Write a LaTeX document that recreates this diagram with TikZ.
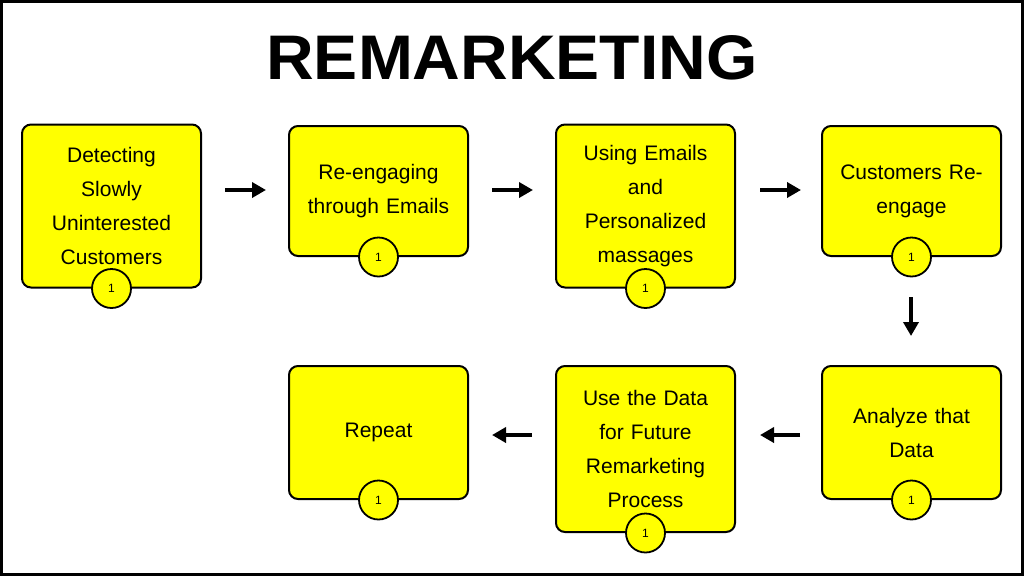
\documentclass[tikz,border=0pt]{standalone}
\usepackage{fontspec}
\setmainfont{Liberation Sans}
\usetikzlibrary{positioning,arrows.meta}
\definecolor{boxyellow}{RGB}{255,255,0}
\begin{document}
\begin{tikzpicture}[x=1pt,y=-1pt,thick,
    step box/.style={draw=black,line width=2pt,fill=boxyellow,rounded corners=9pt,
      align=center,font=\fontsize{21}{34}\selectfont,inner sep=4pt},
    num/.style={circle,draw=black,line width=1.8pt,fill=boxyellow,minimum size=39pt,
      inner sep=0pt,font=\fontsize{12}{14}\selectfont},
    flow/.style={-{Triangle[length=14pt,width=15pt]},line width=3.5pt}]
    \draw[line width=3pt,fill=white] (1.5,1.5) rectangle (1022.5,574.5);
    \useasboundingbox (0,0) rectangle (1024,576);
    \node (title) at (512,58) {\fontsize{60}{62}\selectfont\bfseries\scalebox{1.1}[1.05]{REMARKETING}};

    % first row
    \node[step box,minimum width=179pt,minimum height=163pt,text width=170pt] (detect) at (111.5,206)
        {Detecting\\Slowly\\Uninterested\\Customers};
    \node[step box,minimum width=179pt,minimum height=130pt,text width=170pt] (reengage) at (378.5,191)
        {Re-engaging\\through Emails};
    \node[step box,minimum width=179pt,minimum height=163pt,text width=170pt] (emails) at (645.5,206)
        {Using Emails\\and\\Personalized\\massages};
    \node[step box,minimum width=179pt,minimum height=130pt,text width=170pt] (customers) at (911.5,191)
        {Customers Re-\\engage};

    % second row
    \node[step box,minimum width=179pt,minimum height=133pt,text width=170pt] (analyze) at (911.5,432.5)
        {Analyze that\\Data};
    \node[step box,minimum width=179pt,minimum height=166pt,text width=170pt] (future) at (645.5,449)
        {Use the Data\\for Future\\Remarketing\\Process};
    \node[step box,minimum width=179pt,minimum height=133pt,text width=170pt] (repeat) at (378.5,432.5)
        {Repeat};

    % counters
    \foreach \stp in {detect,reengage,emails,customers,analyze,future,repeat}
        \node[num] at (\stp.south) {1};

    \coordinate (a1) at (225,190); \coordinate (b1) at (266,190);
    \coordinate (a2) at (492,190); \coordinate (b2) at (533,190);
    \coordinate (a3) at (760,190); \coordinate (b3) at (801,190);
    \coordinate (a4) at (911,297); \coordinate (b4) at (911,336);
    \coordinate (a5) at (800,435); \coordinate (b5) at (760,435);
    \coordinate (a6) at (532,435); \coordinate (b6) at (492,435);
    \foreach \i in {1,...,6}
        \draw[flow] (a\i) -- (b\i);
\end{tikzpicture}
\end{document}
